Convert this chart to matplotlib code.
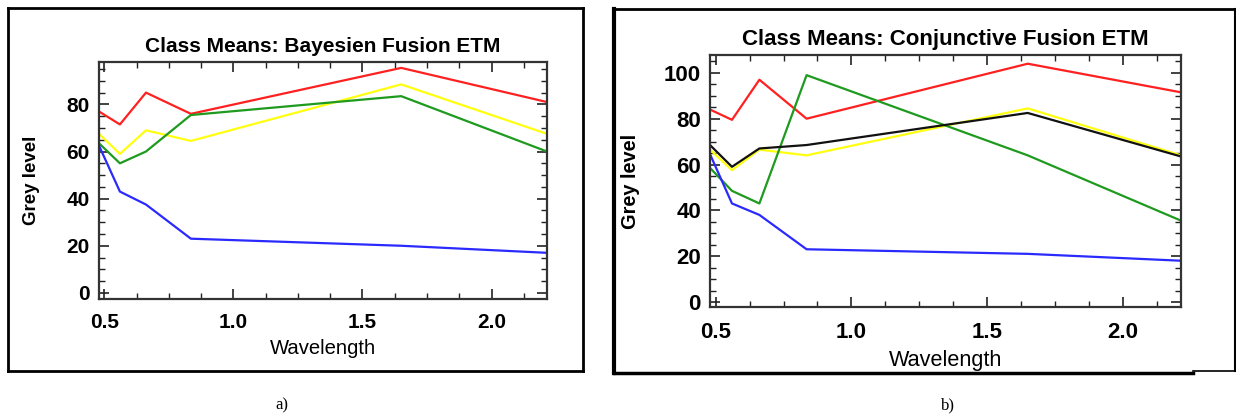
import matplotlib
matplotlib.use('Agg')
import matplotlib.pyplot as plt
from matplotlib.lines import Line2D
from matplotlib.ticker import MultipleLocator, FormatStrFormatter

# ETM band centres (micrometres)
wavelength = [0.479, 0.560, 0.661, 0.835, 1.650, 2.215]

# a) Bayesien fusion class means
bay_red = [77, 71.5, 85, 76, 95.5, 81]
bay_yellow = [67.5, 59, 69, 64.5, 88.5, 67.5]
bay_green = [63.5, 55, 60, 75.5, 83.5, 60]
bay_blue = [62.5, 43, 37.5, 23, 20, 17]

# b) Conjunctive fusion class means
con_red = [84, 79.5, 97, 80, 104, 91.5]
con_yellow = [66.5, 57.5, 66.5, 64, 84.5, 64]
con_green = [58.5, 48.5, 43, 99, 64, 35.5]
con_blue = [64.5, 43, 38, 23, 21, 18]
con_black = [68.5, 59, 67, 68.5, 82.5, 63.5]

titles = ['Class Means: Bayesien Fusion ETM', 'Class Means: Conjunctive Fusion ETM']
captions = ['a)', 'b)']

W, H = 1236, 415
fig = plt.figure(figsize=(W / 100, H / 100), dpi=100)
plt.rcParams['font.family'] = ['Liberation Sans', 'DejaVu Sans']


def px_axes(left, top, right, bottom):
    return fig.add_axes([left / W, (H - bottom) / H, (right - left) / W, (bottom - top) / H])


def px_line(x0, y0, x1, y1, lw=2):
    fig.add_artist(Line2D([x0 / W, x1 / W], [1 - y0 / H, 1 - y1 / H], transform=fig.transFigure,
                          color='black', linewidth=lw, solid_capstyle='projecting'))


# panel frames
px_line(8, 8, 583, 8)
px_line(8, 371, 583, 371)
px_line(8, 8, 8, 371)
px_line(583, 8, 583, 371)

px_line(614, 9, 1235, 9)
px_line(614, 9, 614, 373, lw=3)
px_line(1235, 9, 1235, 371, lw=1.5)
px_line(614, 373, 1193, 373, lw=2.5)
px_line(1193, 371, 1235, 371, lw=1.2)

colors = {'red': '#ff2020', 'yellow': '#ffff10', 'green': '#1e9a1e', 'blue': '#2a2aff', 'black': '#111111'}

ax1 = px_axes(99, 62, 547, 299)
ax2 = px_axes(710, 55, 1181, 307)

for name, ys in [('red', bay_red), ('yellow', bay_yellow), ('green', bay_green), ('blue', bay_blue)]:
    ax1.plot(wavelength, ys, color=colors[name], linewidth=1.6)
for name, ys in [('red', con_red), ('yellow', con_yellow), ('green', con_green),
                 ('blue', con_blue), ('black', con_black)]:
    ax2.plot(wavelength, ys, color=colors[name], linewidth=1.6)

ax1.set_ylim(-2.6, 98)
ax2.set_ylim(-2.2, 107.8)

# per panel: font scale, title, x-label centre (px below axis), y-label centre x (px left of axis)
settings = [(ax1, 1.0, titles[0], 50, 68), (ax2, 1.07, titles[1], 53, 80)]
for ax, s, title, xl_off, yl_off in settings:
    ax.set_xlim(wavelength[0], wavelength[-1])
    ax.xaxis.set_major_locator(MultipleLocator(0.5))
    ax.xaxis.set_minor_locator(MultipleLocator(0.125))
    ax.yaxis.set_major_locator(MultipleLocator(20))
    ax.yaxis.set_minor_locator(MultipleLocator(5))
    ax.xaxis.set_major_formatter(FormatStrFormatter('%.1f'))
    ax.tick_params(which='both', direction='in', top=True, right=True, color='#222222')
    ax.tick_params(which='major', length=7, width=1.2, labelsize=15 * s)
    ax.tick_params(axis='x', which='major', pad=10 * s)
    ax.tick_params(axis='y', which='major', pad=6.5)
    ax.tick_params(which='minor', length=4, width=1.0)
    for lab in ax.get_xticklabels() + ax.get_yticklabels():
        lab.set_fontweight('bold')
    for sp in ax.spines.values():
        sp.set_linewidth(1.6)
        sp.set_color('#333333')
    ax.set_title(title, fontsize=15 * s, fontweight='bold', pad=7)
    bb = ax.get_position()
    w_px, h_px = bb.width * W, bb.height * H
    ax.set_xlabel('Wavelength', fontsize=14.6 * s, va='center')
    ax.xaxis.set_label_coords(0.5, -xl_off / h_px)
    ax.set_ylabel('Grey level', fontsize=13.5 * s, fontweight='bold', va='center')
    ax.yaxis.set_label_coords(-yl_off / w_px, 0.5)

fig.text(282 / W, 1 - 405 / H, captions[0], ha='center', va='center', fontsize=12,
         family='Liberation Serif')
fig.text(948 / W, 1 - 405 / H, captions[1], ha='center', va='center', fontsize=12,
         family='Liberation Serif')

fig.savefig('out.png', dpi=100)
